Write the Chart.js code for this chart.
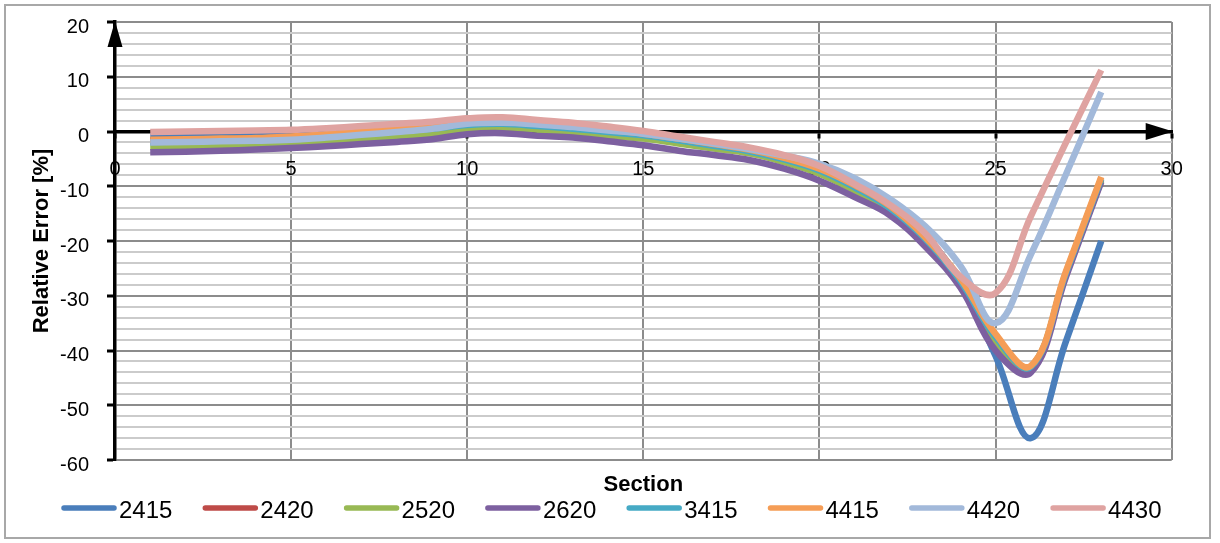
<!DOCTYPE html>
<html>
<head>
<meta charset="utf-8">
<script src="https://cdn.jsdelivr.net/npm/chart.js@4/dist/chart.umd.min.js"></script>
<style>
  html, body { margin: 0; padding: 0; background: #fff; }
  #wrap { width: 1220px; height: 543px; }
</style>
</head>
<body>
<div id="wrap"><canvas id="errChart" width="1220" height="543"></canvas></div>
<script>
const FONT = '"Liberation Sans", Arial, sans-serif';

// sections along the beam
const sections = [1, 2, 3, 4, 5, 6, 7, 8, 9, 10, 11, 12, 13, 14, 15, 16, 17, 18, 19, 20, 21, 22, 23, 24, 25, 26, 27, 28];

// relative error per section [%]
const s2415 = [-0.9, -0.9, -0.9, -0.8, -0.7, -0.5, -0.1, 0.4, 0.9, 1.8, 2.0, 1.6, 1.1, 0.4, -0.3, -1.2, -2.2, -3.2, -4.6, -6.6, -9.5, -13.3, -19.0, -27.5, -41.0, -56.0, -38.3, -20.0];
const s2420 = [-1.6, -1.5, -1.4, -1.3, -1.1, -0.7, -0.3, 0.2, 0.7, 1.4, 1.6, 1.2, 0.7, 0.1, -0.6, -1.5, -2.5, -3.5, -5.0, -7.0, -10.0, -13.8, -19.5, -27.2, -37.5, -43.2, -26.0, -8.8];
const s2520 = [-2.8, -2.7, -2.5, -2.4, -2.2, -1.9, -1.5, -1.1, -0.6, 0.4, 0.6, 0.3, -0.2, -0.8, -1.3, -2.2, -3.1, -4.0, -5.6, -7.7, -10.8, -14.3, -20.0, -27.5, -38.5, -43.0, -26.0, -9.0];
const s2620 = [-3.8, -3.7, -3.5, -3.3, -3.0, -2.7, -2.3, -1.9, -1.4, -0.5, -0.3, -0.8, -1.1, -1.8, -2.5, -3.5, -4.3, -5.2, -6.8, -9.0, -12.0, -15.3, -21.0, -28.5, -40.0, -44.0, -26.5, -9.2];
const s3415 = [-1.9, -1.8, -1.7, -1.5, -1.3, -0.9, -0.5, 0.0, 0.5, 1.2, 1.4, 1.0, 0.5, -0.1, -0.7, -1.6, -2.6, -3.6, -5.1, -7.1, -10.2, -14.0, -19.6, -27.3, -37.5, -43.0, -25.8, -8.6];
const s4415 = [-1.5, -1.4, -1.3, -1.2, -0.9, -0.5, 0.0, 0.5, 1.0, 1.6, 1.8, 1.4, 0.9, 0.3, -0.4, -1.3, -2.3, -3.3, -4.8, -6.8, -9.8, -13.6, -19.3, -26.8, -37.0, -42.8, -25.5, -8.3];
const s4420 = [-2.0, -1.9, -1.8, -1.7, -1.5, -1.1, -0.6, -0.1, 0.5, 1.4, 1.6, 1.3, 0.8, 0.2, -0.4, -1.3, -2.2, -3.2, -4.4, -5.9, -8.5, -12.3, -17.3, -24.5, -35.0, -22.5, -7.8, 7.2];
const s4430 = [-0.1, 0.0, 0.1, 0.2, 0.3, 0.6, 1.0, 1.4, 1.8, 2.4, 2.6, 2.1, 1.6, 0.9, 0.1, -0.9, -1.9, -2.9, -4.3, -6.3, -9.6, -13.4, -18.6, -26.5, -29.5, -15.5, -2.0, 11.2];

const seriesNames = ['2415', '2420', '2520', '2620', '3415', '4415', '4420', '4430'];
const seriesValues = [s2415, s2420, s2520, s2620, s3415, s4415, s4420, s4430];
const seriesColors = ['#4a7ebb', '#be4b48', '#98b954', '#7d60a0', '#46aac5', '#f59d56', '#a2b9da', '#dfa3a1'];

const xTicks = [0, 5, 10, 15, 20, 25, 30];
const yMin = -60, yMax = 20;

// outer frame, axis arrows, "Section" caption and the legend row
const decorations = {
  id: 'decorations',
  beforeDraw(chart) {
    const { ctx } = chart;
    ctx.save();
    ctx.fillStyle = '#fff';
    ctx.fillRect(0, 0, chart.width, chart.height);
    ctx.restore();
  },
  afterDraw(chart) {
    const { ctx, chartArea } = chart;
    const xs = chart.scales.x, ys = chart.scales.y;
    const x0 = xs.getPixelForValue(0), xEnd = xs.getPixelForValue(30);
    const y0 = ys.getPixelForValue(0), yTop = ys.getPixelForValue(yMax);
    ctx.save();

    ctx.fillStyle = '#000';
    ctx.beginPath();
    ctx.moveTo(x0, yTop - 1);
    ctx.lineTo(x0 - 7.5, yTop + 25);
    ctx.lineTo(x0 + 7.5, yTop + 25);
    ctx.closePath();
    ctx.fill();

    ctx.beginPath();
    ctx.moveTo(xEnd + 1.5, y0);
    ctx.lineTo(xEnd - 26, y0 - 8.5);
    ctx.lineTo(xEnd - 26, y0 + 8.5);
    ctx.closePath();
    ctx.fill();

    ctx.font = 'bold 22px ' + FONT;
    ctx.textAlign = 'center';
    ctx.textBaseline = 'middle';
    ctx.fillText('Section', (chartArea.left + chartArea.right) / 2, 485);

    ctx.font = '24px ' + FONT;
    ctx.textAlign = 'left';
    chart.data.datasets.forEach((ds, i) => {
      const lx = 61 + i * 141.3;
      ctx.strokeStyle = ds.borderColor;
      ctx.lineWidth = 5.5;
      ctx.lineCap = 'round';
      ctx.beginPath();
      ctx.moveTo(lx + 3, 508);
      ctx.lineTo(lx + 53, 508);
      ctx.stroke();
      ctx.fillStyle = '#000';
      ctx.fillText(ds.label, lx + 58, 511);
    });

    ctx.strokeStyle = '#a8a8a8';
    ctx.lineWidth = 2;
    ctx.strokeRect(5, 5, 1205, 533);
    ctx.restore();
  }
};

// later series are painted over earlier ones
const datasets = seriesNames.map((name, i) => ({
  label: name,
  data: sections.map((s, k) => ({ x: s, y: seriesValues[i][k] })),
  borderColor: seriesColors[i],
  backgroundColor: seriesColors[i],
  borderWidth: 6.5,
  pointRadius: 0,
  tension: 0.4,
  fill: false,
  order: -i
}));

new Chart(document.getElementById('errChart'), {
  type: 'line',
  data: { datasets },
  options: {
    responsive: false,
    animation: false,
    devicePixelRatio: 1,
    layout: { padding: { left: 0, top: 22, right: 48.3, bottom: 83 } },
    plugins: { legend: { display: false }, tooltip: { enabled: false } },
    scales: {
      x: {
        type: 'linear',
        position: { y: 0 },
        min: 0,
        max: 30,
        afterBuildTicks: (scale) => { scale.ticks = xTicks.map(v => ({ value: v })); },
        afterFit: (scale) => { scale.height = 0; },
        ticks: { font: { family: FONT, size: 20 }, color: '#000', padding: 21, maxRotation: 0 },
        grid: { color: '#8c8c8c', lineWidth: 2, tickLength: 5, tickColor: '#000', tickWidth: 3 },
        border: { display: true, color: '#000', width: 3.5 }
      },
      y: {
        min: yMin,
        max: yMax,
        afterFit: (scale) => {
          scale.width = 115;
          scale.paddingTop = 0;
          scale.paddingBottom = 0;
        },
        ticks: {
          stepSize: 2,
          autoSkip: false,
          font: { family: FONT, size: 20 },
          color: '#000',
          padding: 18,
          labelOffset: 5,
          callback: (v) => (v % 10 === 0 ? String(v) : '')
        },
        grid: {
          color: (c) => (c.tick && c.tick.value % 10 === 0 ? '#8c8c8c' : '#cbcbcb'),
          lineWidth: 2,
          tickLength: 8,
          tickWidth: 3,
          tickColor: (c) => (c.tick && c.tick.value % 10 === 0 ? '#000' : 'rgba(0,0,0,0)')
        },
        border: { display: true, color: '#000', width: 3.5 },
        title: {
          display: true,
          text: 'Relative Error [%]',
          color: '#000',
          font: { family: FONT, size: 22, weight: 'bold' },
          padding: { top: 29, bottom: 0 }
        }
      }
    }
  },
  plugins: [decorations]
});
</script>
</body>
</html>
